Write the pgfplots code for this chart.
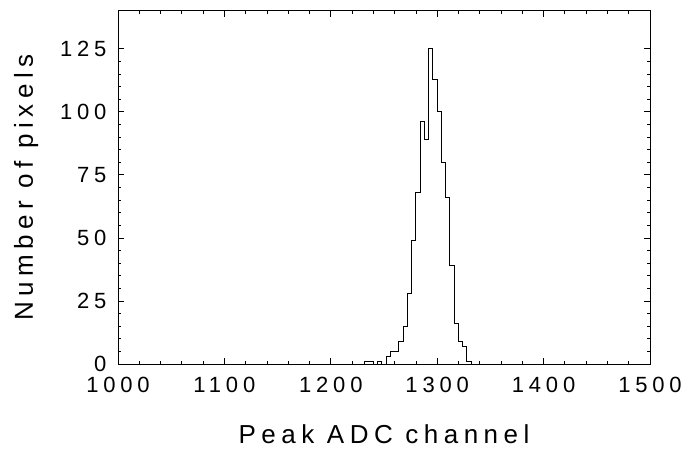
\documentclass[border=0pt]{standalone}
\usepackage{pgfplots}
\pgfplotsset{compat=1.18}
\usepackage{fontspec}
\setmainfont{Liberation Sans}
\newfontfamily\tickfont[LetterSpace=22]{Liberation Sans}
\newfontfamily\labfont[LetterSpace=21]{Liberation Sans}
\begin{document}
\begin{tikzpicture}
\begin{axis}[
  name=ax,
  scale only axis,
  width=532bp, height=353bp,
  xmin=1000, xmax=1500, ymin=0, ymax=140,
  xtick={1000,1100,...,1500},
  ytick={0,25,...,125},
  minor x tick num=4,
  minor y tick num=4,
  tick align=inside,
  major tick length=6bp,
  minor tick length=3bp,
  axis line style={line width=1bp},
  every tick/.style={black, line width=0.8bp},
  /pgf/number format/assume math mode=true,
  /pgf/number format/1000 sep={},
  ticklabel style={font=\fontsize{22bp}{25bp}\tickfont},
  xticklabel style={yshift=-10bp},
  yticklabel style={xshift=-8bp},
  xlabel={Peak ADC channel},
  ylabel={Number of pixels},
  label style={font=\fontsize{26bp}{30bp}\labfont},
  xlabel style={at={(axis description cs:0.5,-0.2266)}, anchor=base},
  ylabel style={at={(axis description cs:-0.1598,0.5)}, anchor=base},
]
\addplot[const plot, black, line width=1bp] coordinates {
(1000,0) (1232,1) (1236,1) (1240,0) (1244,1) (1248,0) (1252,3) (1256,5)
(1260,5) (1264,9) (1268,15) (1272,28) (1276,49) (1280,68) (1284,96)
(1288,89) (1292,125) (1296,113) (1300,100) (1304,80) (1308,66) (1312,39)
(1316,16) (1320,9) (1324,7) (1328,1) (1332,0) (1500,0)
};
\end{axis}
\pgfresetboundingbox
\path[use as bounding box] ([shift={(-118bp,-85bp)}]ax.south west) rectangle ([shift={(33bp,11bp)}]ax.north east);
\end{tikzpicture}
\end{document}
